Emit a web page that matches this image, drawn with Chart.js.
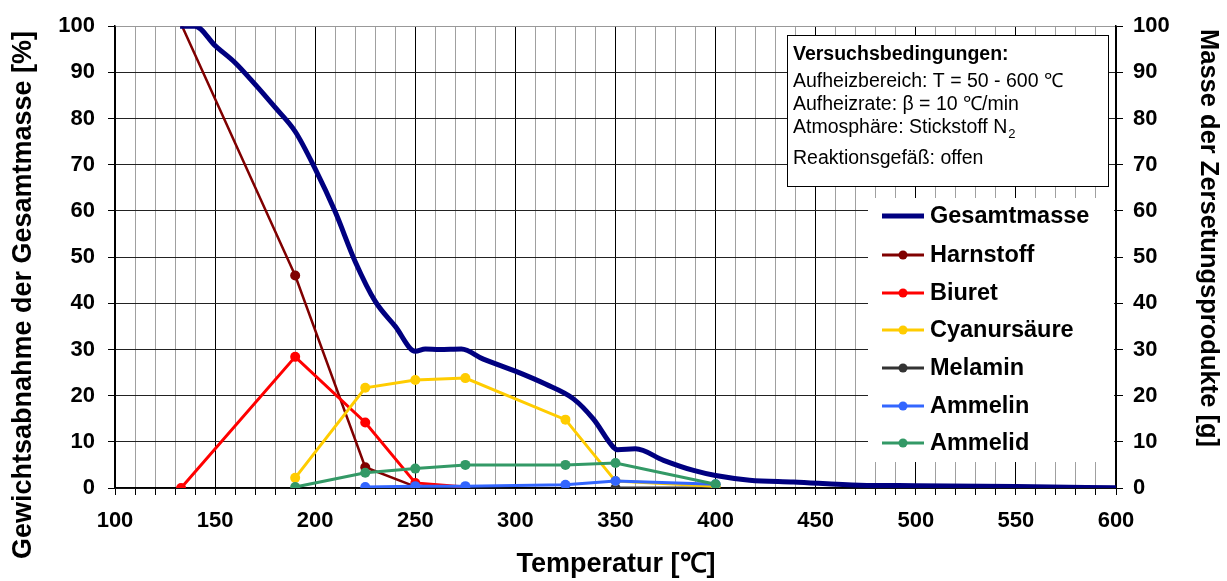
<!DOCTYPE html>
<html>
<head>
    <title>Thermische Zersetzung</title>
    <script src="https://cdn.jsdelivr.net/npm/chart.js"></script>
    <style>
        body, html {
            margin: 0;
            padding: 0;
            background: #fff;
        }
        .wrap {
            width: 1227px;
            height: 581px;
        }
    </style>
</head>
<body>
<div class="wrap">
    <canvas id="tgaChart" width="1227" height="581"></canvas>
</div>

<script>
    // Gesamtmasse (Gewichtsabnahme) - Temperatur / Wert
    const gesamtT = [132.5, 140, 150, 160, 170, 180, 190, 200, 210, 220, 230, 240, 250, 255, 262, 273, 284, 300, 315, 329, 339, 349, 351, 360, 374, 389, 400, 417, 439, 472, 500, 550, 600];
    const gesamtM = [100, 100, 95.8, 92.1, 87.4, 82.4, 77.2, 69.1, 59.8, 49.0, 40.4, 35.0, 29.6, 30.1, 30.0, 30.1, 27.9, 25.3, 22.5, 19.3, 14.9, 8.8, 8.3, 8.5, 6.0, 3.8, 2.7, 1.7, 1.3, 0.6, 0.5, 0.3, 0.05];

    // Zersetzungsprodukte
    const harnstoffT = [133, 190, 225, 250];
    const harnstoff = [100.5, 46.0, 4.5, 0.3];
    const biuretT = [133, 190, 225, 250, 275];
    const biuret = [0, 28.4, 14.2, 1.1, 0.2];
    const cyanT = [190, 225, 250, 275, 325, 350, 400];
    const cyan = [2.2, 21.7, 23.4, 23.8, 14.8, 1.5, 0.4];
    const melaminT = [350, 400];
    const melamin = [0, 0];
    const ammelinT = [225, 250, 275, 325, 350, 400];
    const ammelin = [0.2, 0.4, 0.4, 0.7, 1.5, 0.8];
    const ammelidT = [190, 225, 250, 275, 325, 350, 400];
    const ammelid = [0.2, 3.3, 4.2, 5.0, 5.0, 5.4, 0.8];

    const yTicks = [0, 10, 20, 30, 40, 50, 60, 70, 80, 90, 100];
    const xLabelStep = 50;

    const conditions = [
        'Versuchsbedingungen:',
        'Aufheizbereich: T = 50 - 600 ℃',
        'Aufheizrate: β = 10 ℃/min',
        'Atmosphäre: Stickstoff N',
        'Reaktionsgefäß: offen'
    ];

    const xTitle = 'Temperatur [℃]';
    const yTitle = 'Gewichtsabnahme der Gesamtmasse [%]';
    const y2Title = 'Masse der Zersetungsprodukte [g]';

    const FONT = "'Liberation Sans', Arial, sans-serif";

    function pts(xs, ys) {
        return xs.map((x, i) => ({ x: x, y: ys[i] }));
    }

    function series(label, xs, ys, color, order, width) {
        return {
            label: label,
            data: pts(xs, ys),
            borderColor: color,
            backgroundColor: color,
            borderWidth: width || 3,
            pointRadius: 5,
            pointHoverRadius: 5,
            pointBorderWidth: 0,
            order: order
        };
    }

    const harnstoffSet = series('Harnstoff', harnstoffT, harnstoff, '#800000', 6, 2.5);
    harnstoffSet.pointRadius = harnstoff.map((v, i) => i === 0 ? 0 : 5);

    const datasets = [
        {
            label: 'Gesamtmasse',
            data: pts(gesamtT, gesamtM),
            borderColor: '#000080',
            borderWidth: 5,
            pointRadius: 0,
            cubicInterpolationMode: 'monotone',
            order: 0
        },
        harnstoffSet,
        series('Biuret', biuretT, biuret, '#ff0000', 5),
        series('Cyanursäure', cyanT, cyan, '#ffcc00', 4),
        series('Melamin', melaminT, melamin, '#333333', 7),
        series('Ammelin', ammelinT, ammelin, '#3366ff', 2),
        series('Ammelid', ammelidT, ammelid, '#339966', 1)
    ];

    // legend, conditions box and axis titles
    const boxesPlugin = {
        id: 'boxes',
        afterDatasetsDraw(chart) {
            const ctx = chart.ctx;
            ctx.save();

            // conditions box
            ctx.fillStyle = '#fff';
            ctx.fillRect(787.5, 35.5, 321, 151);
            ctx.strokeStyle = '#000';
            ctx.lineWidth = 1;
            ctx.strokeRect(787.5, 35.5, 321, 151);
            ctx.fillStyle = '#000';
            ctx.textBaseline = 'alphabetic';
            const lineY = [60, 87, 110, 133, 164];
            conditions.forEach((t, i) => {
                ctx.font = (i === 0 ? 'bold ' : '') + '19.5px ' + FONT;
                ctx.fillText(t, 793, lineY[i]);
                if (i === 3) {
                    const w = ctx.measureText(t).width;
                    ctx.font = '13px ' + FONT;
                    ctx.fillText('2', 793 + w + 1, lineY[i] + 5);
                }
            });

            // legend
            ctx.fillStyle = '#fff';
            ctx.fillRect(868, 198, 246, 264);
            const rowY = [216, 255, 293, 330, 368, 406, 443];
            datasets.forEach((ds, i) => {
                const y = rowY[i];
                ctx.strokeStyle = ds.borderColor;
                ctx.lineWidth = i === 0 ? 5 : 3;
                ctx.beginPath();
                ctx.moveTo(882, y);
                ctx.lineTo(924, y);
                ctx.stroke();
                if (i > 0) {
                    ctx.fillStyle = ds.borderColor;
                    ctx.beginPath();
                    ctx.arc(903, y, 4.5, 0, Math.PI * 2);
                    ctx.fill();
                }
                ctx.fillStyle = '#000';
                ctx.font = 'bold 23.5px ' + FONT;
                ctx.textBaseline = 'middle';
                ctx.fillText(ds.label, 930, y + 1);
            });
            ctx.restore();
        },
        afterDraw(chart) {
            const ctx = chart.ctx;
            ctx.save();
            ctx.fillStyle = '#000';
            ctx.textAlign = 'center';
            ctx.textBaseline = 'middle';

            ctx.font = 'bold 27px ' + FONT;
            ctx.fillText(xTitle, 616, 565);

            ctx.save();
            ctx.translate(24, 295);
            ctx.rotate(-Math.PI / 2);
            ctx.fillText(yTitle, 0, 0);
            ctx.restore();

            ctx.save();
            ctx.font = 'bold 25.5px ' + FONT;
            ctx.translate(1208, 238);
            ctx.rotate(Math.PI / 2);
            ctx.fillText(y2Title, 0, 0);
            ctx.restore();

            ctx.restore();
        }
    };

    const tickFont = { family: FONT, size: 22, weight: 'bold' };

    new Chart(document.getElementById('tgaChart').getContext('2d'), {
        type: 'line',
        data: { datasets: datasets },
        options: {
            responsive: false,
            animation: false,
            layout: { padding: { top: 23, left: 0, right: 0, bottom: 0 } },
            plugins: {
                legend: { display: false },
                tooltip: { enabled: false }
            },
            scales: {
                x: {
                    type: 'linear',
                    min: 100,
                    max: 600,
                    afterFit: (s) => { s.height = 93; },
                    ticks: {
                        stepSize: 10,
                        autoSkip: false,
                        maxRotation: 0,
                        color: '#000',
                        font: tickFont,
                        padding: 13,
                        callback: (v) => v % xLabelStep === 0 ? v : ''
                    },
                    grid: {
                        color: (c) => c.tick && c.tick.value % xLabelStep === 0 ? '#000' : '#a0a0a0',
                        tickColor: '#000',
                        tickLength: 7,
                        lineWidth: 1
                    },
                    border: { color: '#000', width: 1.5 }
                },
                y: {
                    position: 'left',
                    min: 0,
                    max: 100,
                    afterFit: (s) => { s.width = 115; },
                    afterBuildTicks: (s) => { s.ticks = yTicks.map(v => ({ value: v })); },
                    ticks: { color: '#000', font: tickFont, padding: 13 },
                    grid: {
                        color: (c) => c.tick && c.tick.value === 100 ? '#999' : '#222',
                        tickColor: '#000',
                        tickLength: 7
                    },
                    border: { color: '#000', width: 1.5 }
                },
                y2: {
                    position: 'right',
                    min: 0,
                    max: 100,
                    afterFit: (s) => { s.width = 111; },
                    afterBuildTicks: (s) => { s.ticks = yTicks.map(v => ({ value: v })); },
                    ticks: { color: '#000', font: tickFont, padding: 10 },
                    grid: {
                        drawOnChartArea: false,
                        tickColor: '#000',
                        tickLength: 7
                    },
                    border: { color: '#000', width: 1.5 }
                }
            }
        },
        plugins: [boxesPlugin]
    });
</script>
</body>
</html>
